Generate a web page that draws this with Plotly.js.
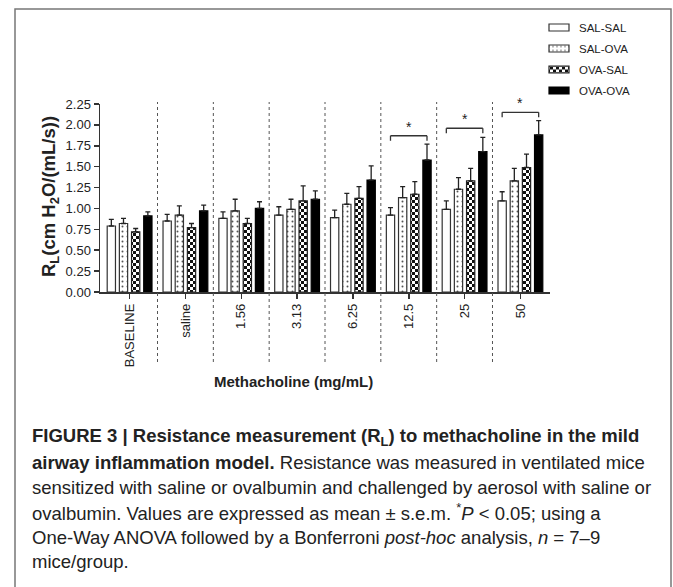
<!DOCTYPE html>
<html>
<head>
<meta charset="utf-8">
<script src="https://cdn.plot.ly/plotly-3.0.1.min.js"></script>
<style>
  html, body { margin: 0; padding: 0; background: #fff; }
  #wrap { position: relative; width: 673px; height: 587px; overflow: hidden; }
  #chart { position: absolute; left: 0; top: 0; width: 673px; height: 587px; }
</style>
</head>
<body>
<svg width="0" height="0" style="position:absolute">
  <defs>
    <pattern id="chk" patternUnits="userSpaceOnUse" width="6" height="6">
      <rect width="6" height="6" fill="#ffffff"/>
      <rect x="0" y="0" width="3" height="3" fill="#111111"/>
      <rect x="3" y="3" width="3" height="3" fill="#111111"/>
    </pattern>
  </defs>
</svg>
<div id="wrap"><div id="chart"></div></div>
<script>
// ---------------- data ----------------
const categories = ['BASELINE', 'saline', '1.56', '3.13', '6.25', '12.5', '25', '50'];
const seriesNames = ['SAL-SAL', 'SAL-OVA', 'OVA-SAL', 'OVA-OVA'];
const salSal     = [0.79, 0.85, 0.88, 0.92, 0.89, 0.92, 0.99, 1.09];
const salSalSem  = [0.08, 0.08, 0.08, 0.10, 0.09, 0.09, 0.10, 0.11];
const salOva     = [0.82, 0.92, 0.97, 0.99, 1.05, 1.13, 1.23, 1.33];
const salOvaSem  = [0.06, 0.11, 0.14, 0.12, 0.13, 0.13, 0.14, 0.15];
const ovaSal     = [0.72, 0.77, 0.82, 1.09, 1.12, 1.17, 1.33, 1.49];
const ovaSalSem  = [0.04, 0.05, 0.06, 0.18, 0.14, 0.15, 0.15, 0.16];
const ovaOva     = [0.91, 0.97, 1.00, 1.11, 1.34, 1.58, 1.68, 1.88];
const ovaOvaSem  = [0.05, 0.07, 0.08, 0.10, 0.17, 0.19, 0.17, 0.17];
const yTickVals  = [0, 0.25, 0.5, 0.75, 1.0, 1.25, 1.5, 1.75, 2.0, 2.25];
const sigCategories = ['12.5', '25', '50'];
const sigBracketY   = [1.87, 1.96, 2.15];

const captionLines = [
  '<b>FIGURE 3 | Resistance measurement (R<sub>L</sub>) to methacholine in the mild</b>',
  '<b>airway inflammation model.</b> Resistance was measured in ventilated mice',
  'sensitized with saline or ovalbumin and challenged by aerosol with saline or',
  'ovalbumin. Values are expressed as mean \u00b1 s.e.m. <sup>*</sup><i>P</i> &lt; 0.05; using a',
  'One-Way ANOVA followed by a Bonferroni <i>post-hoc</i> analysis, <i>n</i> = 7\u20139',
  'mice/group.'
];

// ---------------- geometry helpers ----------------
const W = 673, Hh = 587;
const mL = 100, mR = 123, mT = 104, mB = 295;
const PW = W - mL - mR, PH = Hh - mT - mB;
const xp = px => (px - mL) / PW;
const yp = py => (mT + PH - py) / PH;

const FONT = 'Liberation Sans, Arial, Helvetica, sans-serif';
const TXT = '#222222';
const bargap = 0.128, bargroupgap = 0.32;
const nSeries = seriesNames.length;
const slot = (1 - bargap) / nSeries;
const edgeOffset = slot * (nSeries - 1) / 2;

const zeros = categories.map(() => 0);
function barTrace(name, y, sem, marker, group) {
  return {
    type: 'bar', name: name, x: categories, y: y,
    legendgroup: group,
    marker: marker,
    error_y: { type: 'data', symmetric: false, array: sem, arrayminus: zeros,
               color: '#222', thickness: 1.3, width: 2.5 },
    hoverinfo: 'skip'
  };
}

const traces = [
  barTrace(seriesNames[0], salSal, salSalSem,
    { color: '#ffffff', line: { color: '#333', width: 1.2 } }, 'g0'),
  barTrace(seriesNames[1], salOva, salOvaSem,
    { color: '#ffffff', line: { color: '#333', width: 1.2 },
      pattern: { shape: '.', size: 5, solidity: 0.12, fgcolor: '#555', bgcolor: '#ffffff' } }, 'g1'),
  barTrace(seriesNames[2], ovaSal, ovaSalSem,
    { color: '#777777', line: { color: '#222', width: 1.2 } }, 'g2'),
  barTrace(seriesNames[3], ovaOva, ovaOvaSem,
    { color: '#000000', line: { color: '#000', width: 1.2 } }, 'g3')
];

// ---------------- shapes ----------------
const shapes = [];
for (let i = 0; i < categories.length - 1; i++) {
  shapes.push({ type: 'line', xref: 'x', yref: 'paper', x0: i + 0.5, x1: i + 0.5,
    y0: yp(362), y1: yp(102), line: { color: '#555', width: 1, dash: 'dot' } });
}
const annotations = [];
sigCategories.forEach((c, k) => {
  const ci = categories.indexOf(c);
  const yv = sigBracketY[k];
  const drop = 0.06;
  const xa = ci - edgeOffset, xb = ci + edgeOffset;
  const ln = { color: '#333', width: 1.3 };
  shapes.push({ type: 'line', xref: 'x', yref: 'y', x0: xa, x1: xb, y0: yv, y1: yv, line: ln });
  shapes.push({ type: 'line', xref: 'x', yref: 'y', x0: xa, x1: xa, y0: yv, y1: yv - drop, line: ln });
  shapes.push({ type: 'line', xref: 'x', yref: 'y', x0: xb, x1: xb, y0: yv, y1: yv - drop, line: ln });
  annotations.push({ xref: 'x', yref: 'y', x: ci, y: yv, yanchor: 'bottom', yshift: -1,
    text: '*', showarrow: false, font: { family: FONT, size: 14, color: TXT } });
});
shapes.push({ type: 'rect', xref: 'paper', yref: 'paper',
  x0: xp(15), x1: xp(671), y0: yp(640), y1: yp(9),
  line: { color: '#777', width: 1.5 }, fillcolor: 'rgba(0,0,0,0)' });

annotations.push({ xref: 'paper', yref: 'paper', x: xp(50), y: yp(197),
  text: '<b>R<sub>L</sub>(cm H<sub>2</sub>O/(mL/s))</b>', textangle: -90, showarrow: false,
  xanchor: 'center', yanchor: 'middle', font: { family: FONT, size: 18.5, color: TXT } });
annotations.push({ xref: 'paper', yref: 'paper', x: xp(293), y: yp(381),
  text: '<b>Methacholine (mg/mL)</b>', showarrow: false,
  xanchor: 'center', yanchor: 'middle', font: { family: FONT, size: 15, color: TXT } });

const capY = [437, 462, 487, 512, 537, 561];
captionLines.forEach((t, i) => {
  annotations.push({ xref: 'paper', yref: 'paper', x: xp(30), y: yp(capY[i]),
    xanchor: 'left', yanchor: 'middle', align: 'left', text: t, showarrow: false,
    font: { family: FONT, size: 18.5, color: TXT } });
});

const layout = {
  width: W, height: Hh,
  margin: { l: mL, r: mR, t: mT, b: mB, pad: 0 },
  paper_bgcolor: '#ffffff', plot_bgcolor: '#ffffff',
  font: { family: FONT, size: 13, color: TXT },
  barmode: 'group', bargap: bargap, bargroupgap: bargroupgap,
  showlegend: true,
  legend: { x: xp(539), y: yp(13), xanchor: 'left', yanchor: 'top',
    bgcolor: 'rgba(0,0,0,0)', borderwidth: 0, tracegroupgap: 2,
    font: { family: FONT, size: 11.5, color: TXT } },
  xaxis: {
    type: 'category', range: [-0.53, categories.length - 0.47],
    showline: true, linecolor: '#333', linewidth: 1.5,
    ticks: 'outside', ticklen: 5, tickwidth: 1.5, tickcolor: '#333',
    tickangle: -90, showgrid: false, zeroline: false, automargin: false,
    tickfont: { family: FONT, size: 13, color: TXT }
  },
  yaxis: {
    range: [0, 2.25], tickvals: yTickVals, tickformat: '.2f',
    showline: true, linecolor: '#333', linewidth: 1.5,
    ticks: 'outside', ticklen: 5, tickwidth: 1.5, tickcolor: '#333',
    showgrid: false, zeroline: false, automargin: false,
    tickfont: { family: FONT, size: 13, color: TXT }
  },
  shapes: shapes,
  annotations: annotations
};

const gd = document.getElementById('chart');
// Plotly has no checkerboard pattern: apply one to the OVA-SAL bars it drew,
// and give the legend swatches the wide, flat shape of the reference.
function restyleDom() {
  try {
    const barTraces = gd.querySelectorAll('g.trace.bars');
    if (barTraces[2]) {
      barTraces[2].querySelectorAll('path').forEach(p => {
        if (p.closest('.errorbar')) return;
        p.style.fill = 'url(#chk)';
      });
    }
    gd.querySelectorAll('g.legend g.traces').forEach((it, i) => {
      it.querySelectorAll('g.legendpoints path').forEach(p => {
        p.setAttribute('d', 'M10,3.5H-10V-3.5H10Z');
        if (i === 2) p.style.fill = 'url(#chk)';
      });
    });
  } catch (e) { /* ignore */ }
}
const pr = Plotly.newPlot(gd, traces, layout, { staticPlot: true, displayModeBar: false });
restyleDom();
if (pr && pr.then) pr.then(restyleDom);
gd.on && gd.on('plotly_afterplot', restyleDom);
setTimeout(restyleDom, 50);
setTimeout(restyleDom, 300);
</script>
</body>
</html>
